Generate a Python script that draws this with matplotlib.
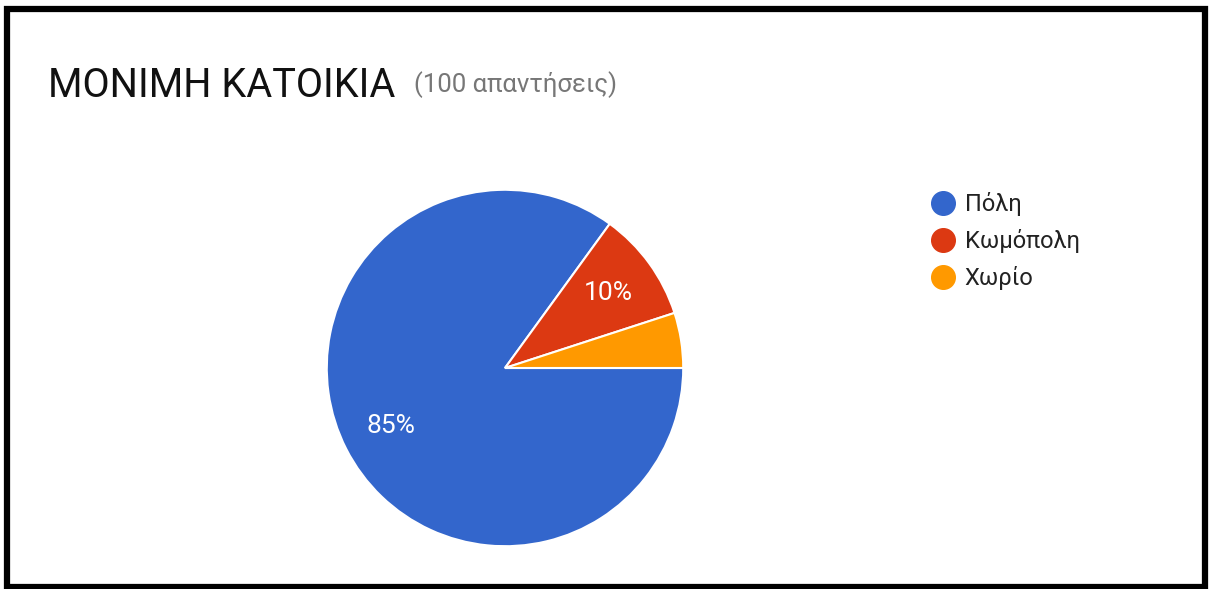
import matplotlib.pyplot as plt
from matplotlib.lines import Line2D
from matplotlib.patches import Rectangle

plt.rcParams['font.family'] = ['Roboto', 'DejaVu Sans']

title = "ΜΟΝΙΜΗ ΚΑΤΟΙΚΙΑ"
subtitle = "(100 απαντήσεις)"
categories = ["Πόλη", "Κωμόπολη", "Χωρίο"]
values = [85, 10, 5]
colors = ["#3366CC", "#DC3912", "#FF9900"]

W, H = 1209, 589
fig = plt.figure(figsize=(W / 100, H / 100), dpi=100)

# pie axes: centre (505, 368) px, radius 180 px
cx, cy, r = 505, 368, 180
ax = fig.add_axes([(cx - r) / W, (H - cy - r) / H, 2 * r / W, 2 * r / H])


def pct_label(p):
    # small slices stay unlabelled
    return f"{p:.0f}%" if p >= 8 else ""


wedges, _, autotexts = ax.pie(
    values,
    colors=colors,
    startangle=0,
    counterclock=False,
    radius=1,
    autopct=pct_label,
    pctdistance=0.72,
    wedgeprops=dict(edgecolor="white", linewidth=1.5),
    textprops=dict(color="white", fontsize=19),
)
ax.set_xlim(-1.01, 1.01)
ax.set_ylim(-1.01, 1.01)
ax.set_aspect("equal")
ax.axis("off")

fig.text(48 / W, 1 - 97 / H, title, fontsize=28.5, color="#111111", va="baseline")
fig.text(414 / W, 1 - 92 / H, subtitle, fontsize=18.5, color="#777777", va="baseline")

handles = [Line2D([], [], marker="o", linestyle="none", markersize=17,
                  markerfacecolor=c, markeredgecolor=c) for c in colors]
fig.legend(handles, categories, loc="upper left",
           bbox_to_anchor=(921 / W, 1 - 180 / H),
           frameon=False, fontsize=17, labelspacing=0.55,
           handlelength=0.9, handletextpad=0.45, borderpad=0,
           labelcolor="#222222")

# black frame around the card
fig.patches.append(Rectangle((6.5 / W, 2.5 / H), (W - 11) / W, (H - 11) / H,
                             transform=fig.transFigure, fill=False,
                             edgecolor="black", linewidth=4.5))

fig.savefig("out.png", dpi=100)
